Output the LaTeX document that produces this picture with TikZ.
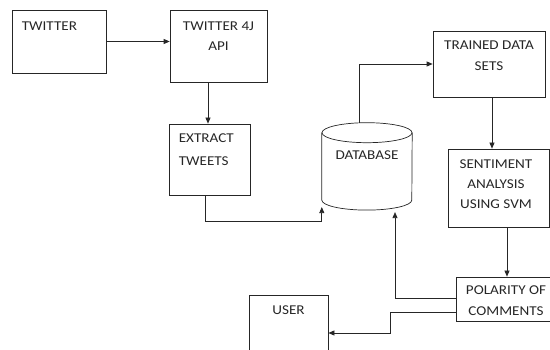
\documentclass[tikz,border=0pt]{standalone}
\usepackage{fontspec}
\setmainfont{Carlito}[FakeStretch=1.12]
\usetikzlibrary{positioning,arrows.meta,calc}

\begin{document}
\begin{tikzpicture}[x=1pt,y=-1pt,
  blockbox/.style={draw=black!85, line width=0.7pt, rectangle, inner sep=0pt},
  boxtxt/.style={anchor=north, align=center, inner sep=0pt, text=black!85, font=\fontsize{13.5}{20}\selectfont},
  flow/.style={draw=black!85, line width=0.7pt, -{Triangle[length=6pt,width=5pt]}}]
\useasboundingbox (0,0) rectangle (550,350);

% Boxes
\node[blockbox, minimum width=94pt, minimum height=63pt,
  label={[boxtxt, anchor=north west, xshift=10pt, yshift=-12pt]north west:TWITTER}] (twitter) at (59,41.5) {};
\node[blockbox, minimum width=97pt, minimum height=72pt,
  label={[boxtxt, yshift=-11.7pt]north:TWITTER 4J\\API}] (api) at (218.5,46) {};
\node[blockbox, minimum width=81pt, minimum height=71pt,
  label={[boxtxt, align=left, anchor=north west, xshift=10pt, yshift=-10pt, font=\fontsize{13.5}{23}\selectfont]north west:EXTRACT\\TWEETS}] (extract) at (209.5,159.5) {};
\node[blockbox, minimum width=112pt, minimum height=66pt,
  label={[boxtxt, yshift=-9.7pt, font=\fontsize{13.5}{21}\selectfont]north:TRAINED DATA\\SETS}] (trained) at (489,64) {};
\node[blockbox, minimum width=101pt, minimum height=78pt,
  label={[boxtxt, xshift=-2.5pt, yshift=-11pt]north:SENTIMENT\\ANALYSIS\\USING SVM}] (sentiment) at (498.5,188) {};
\node[blockbox, minimum width=100pt, minimum height=44pt,
  label={[boxtxt, yshift=-9pt, font=\fontsize{13.5}{21}\selectfont]north:POLARITY OF\\COMMENTS}] (polarity) at (506,299) {};
\node[blockbox, minimum width=79pt, minimum height=76pt,
  label={[boxtxt, yshift=-11pt]north:USER}] (user) at (288.5,333) {};

% Database (cylinder drawn round the node)
\node[inner sep=0pt, minimum width=90pt, minimum height=87pt,
  label={[boxtxt, yshift=11pt]center:DATABASE}] (db) at (367,166.4) {};
\draw[draw=black!85, line width=0.7pt] ([yshift=-10pt]db.north) ellipse (45 and 10);
\draw[draw=black!85, line width=0.7pt] ([yshift=-10pt]db.north west) -- ([yshift=10pt]db.south west)
  arc (180:0:45 and 10) -- ([yshift=-10pt]db.north east);

% Connectors
\draw[flow] (twitter.east) -- (twitter.east -| api.west);
\draw[flow] ([xshift=-10.5pt]api.south) -- ([xshift=-10.5pt]api.south |- extract.north);
\draw[flow] ([xshift=-4.5pt]extract.south) -- ++(0,26) -| ([yshift=3pt]db.south west);
\draw[flow] ([xshift=-8pt]db.north) |- (trained.west);
\draw[flow] ([xshift=3pt]trained.south) -- ([xshift=3pt]trained.south |- sentiment.north);
\draw[flow] ([xshift=8.5pt]sentiment.south) -- ([xshift=8.5pt]sentiment.south |- polarity.north);
\draw[flow] ([yshift=1pt]polarity.west) -| ([xshift=28pt,yshift=-2pt]db.south);
\draw[flow] ([yshift=-13pt]polarity.west) -- ++(-65,0) |- (user.east);
\end{tikzpicture}
\end{document}
